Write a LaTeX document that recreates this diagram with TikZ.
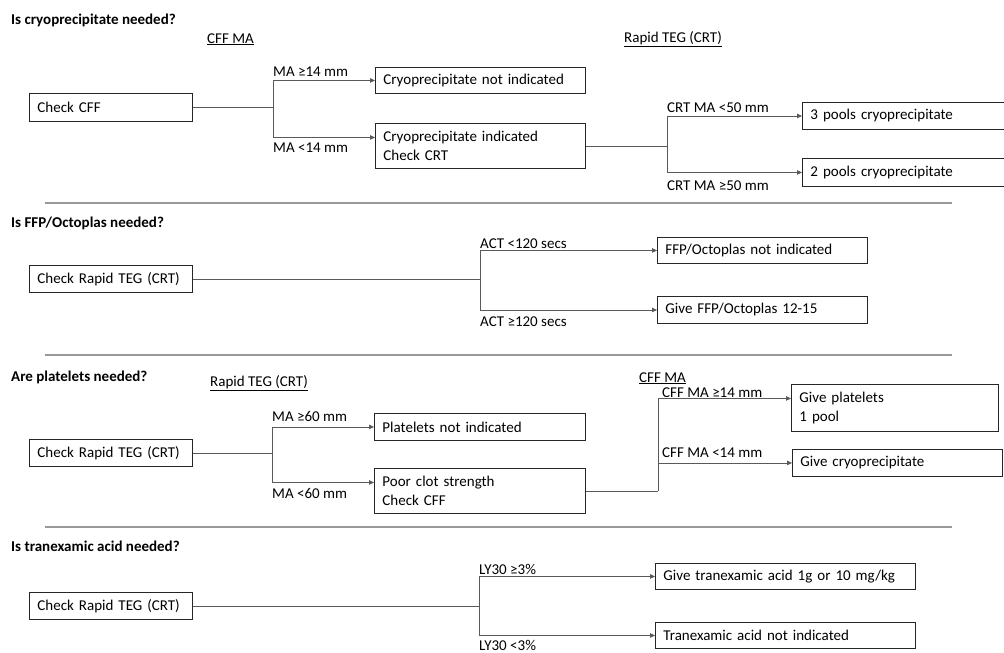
\documentclass[tikz,border=0pt]{standalone}
\usepackage{fontspec}
\setmainfont{Carlito}
\usetikzlibrary{arrows.meta}
\begin{document}
\begin{tikzpicture}[x=1pt,y=-1pt,
  box/.style={draw=black!85, line width=0.9pt, anchor=north west, inner xsep=8pt, inner ysep=0pt, align=left, font=\fontsize{15}{19}\selectfont},
  lbl/.style={anchor=base west, inner sep=0pt, font=\fontsize{15}{18}\selectfont},
  ttl/.style={anchor=base west, inner sep=0pt, font=\fontsize{15}{18}\selectfont\bfseries},
  conn/.style={draw=black!65, line width=0.8pt},
  arr/.style={conn, -{Triangle[length=5pt,width=4.5pt]}},
  sep/.style={draw=black!40, line width=1.2pt}]
\useasboundingbox (0,0) rectangle (1004,653);
\fill[white] (0,0) rectangle (1004,653);
\clip (0,0) rectangle (1004,653);

% ---------- Section 1 ----------
\node[ttl] (t1) at (11,24) {Is cryoprecipitate needed?};
\node[lbl] (h1a) at (207,43) {\underline{CFF MA}};
\node[lbl] (h1b) at (624,42) {\underline{Rapid TEG (CRT)}};
\node[box, text width=147pt, minimum height=28pt] (s1c) at (29,93) {Check CFF};
\node[box, text width=194pt, minimum height=26pt] (s1a) at (375,67) {Cryoprecipitate not indicated};
\node[box, text width=194pt, minimum height=45pt] (s1b) at (375,123) {Cryoprecipitate indicated\\Check CRT};
\node[box, text width=200pt, minimum height=27pt] (s1d) at (802,102) {3 pools cryoprecipitate};
\node[box, text width=200pt, minimum height=28pt] (s1e) at (802,158) {2 pools cryoprecipitate};
\coordinate (jx1) at (273,0);
\coordinate (jx1b) at (667,0);
\draw[conn] (s1c.east) -- (s1c.east -| jx1);
\draw[arr] (s1c.east -| jx1) |- (s1a.west);
\draw[arr] (s1c.east -| jx1) |- ([yshift=8.5pt]s1b.west);
\draw[conn] (s1b.east) -- (s1b.east -| jx1b);
\draw[arr] (s1b.east -| jx1b) |- (s1d.west);
\draw[arr] (s1b.east -| jx1b) |- (s1e.west);
\node[lbl] (l1a) at (273,76) {MA ≥14 mm};
\node[lbl] (l1b) at (273,152) {MA <14 mm};
\node[lbl] (l1c) at (667,112) {CRT MA <50 mm};
\node[lbl] (l1d) at (667,190) {CRT MA ≥50 mm};
\draw[sep] (45,203) -- (952,203);

% ---------- Section 2 ----------
\node[ttl] (t2) at (11,227) {Is FFP/Octoplas needed?};
\node[box, text width=147pt, minimum height=27pt] (s2c) at (29,265) {Check Rapid TEG (CRT)};
\node[box, text width=194pt, minimum height=26pt] (s2a) at (657,237) {FFP/Octoplas not indicated};
\node[box, text width=194pt, minimum height=27pt] (s2b) at (657,296) {Give FFP/Octoplas 12-15};
\coordinate (jx2) at (480,0);
\draw[conn] (s2c.east) -- (s2c.east -| jx2);
\draw[arr] (s2c.east -| jx2) |- (s2a.west);
\draw[arr] (s2c.east -| jx2) |- (s2b.west);
\node[lbl] (l2a) at (480,248) {ACT <120 secs};
\node[lbl] (l2b) at (480,326) {ACT ≥120 secs};
\draw[sep] (45,355) -- (952,355);

% ---------- Section 3 ----------
\node[ttl] (t3) at (11,381) {Are platelets needed?};
\node[lbl] (h3a) at (210,386) {\underline{Rapid TEG (CRT)}};
\node[lbl] (h3b) at (639,382) {\underline{CFF MA}};
\node[box, text width=147pt, minimum height=27pt] (s3c) at (29,439) {Check Rapid TEG (CRT)};
\node[box, text width=195pt, minimum height=27pt] (s3a) at (374,413) {Platelets not indicated};
\node[box, text width=195pt, minimum height=45pt] (s3b) at (374,468) {Poor clot strength\\Check CFF};
\node[box, text width=191pt, minimum height=47pt] (s3d) at (791,384) {Give platelets\\1 pool};
\node[box, text width=194pt, minimum height=27pt] (s3e) at (792,449) {Give cryoprecipitate};
\coordinate (jx3) at (272,0);
\coordinate (jx3b) at (658,0);
\draw[conn] (s3c.east) -- (s3c.east -| jx3);
\draw[arr] (s3c.east -| jx3) |- (s3a.west);
\draw[arr] (s3c.east -| jx3) |- ([yshift=8.5pt]s3b.west);
\draw[conn] (s3b.east) -- (s3b.east -| jx3b);
\draw[arr] (s3b.east -| jx3b) |- ([yshift=9.5pt]s3d.west);
\draw[arr] (s3b.east -| jx3b) |- (s3e.west);
\node[lbl] (l3a) at (272,421) {MA ≥60 mm};
\node[lbl] (l3b) at (272,498) {MA <60 mm};
\node[lbl] (l3c) at (662,397) {CFF MA ≥14 mm};
\node[lbl] (l3d) at (662,457) {CFF MA <14 mm};
\draw[sep] (45,527) -- (952,527);

% ---------- Section 4 ----------
\node[ttl] (t4) at (11,551) {Is tranexamic acid needed?};
\node[box, text width=147pt, minimum height=27pt] (s4c) at (29,592) {Check Rapid TEG (CRT)};
\node[box, text width=244pt, minimum height=26pt] (s4a) at (655,563) {Give tranexamic acid 1g or 10 mg/kg};
\node[box, text width=244pt, minimum height=26pt] (s4b) at (655,622) {Tranexamic acid not indicated};
\coordinate (jx4) at (479,0);
\draw[conn] (s4c.east) -- (s4c.east -| jx4);
\draw[arr] (s4c.east -| jx4) |- (s4a.west);
\draw[arr] (s4c.east -| jx4) |- (s4b.west);
\node[lbl] (l4a) at (479,574) {LY30 ≥3\%};
\node[lbl] (l4b) at (479,650) {LY30 <3\%};
\end{tikzpicture}
\end{document}
